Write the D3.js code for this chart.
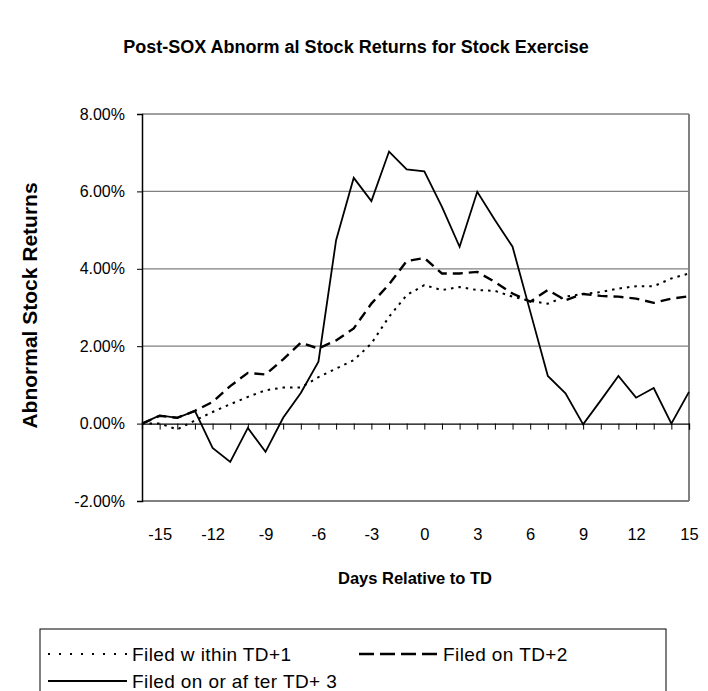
<!DOCTYPE html>
<html>
<head>
<meta charset="utf-8">
<script src="https://cdn.jsdelivr.net/npm/d3@7"></script>
<style>
  body { margin: 0; background: #fff; }
  text { font-family: "Liberation Sans", Arial, sans-serif; }
</style>
</head>
<body>
<div id="chart"></div>
<script>
// days relative to TD
var days = d3.range(-16, 16);
var xTickLabels = [-15, -12, -9, -6, -3, 0, 3, 6, 9, 12, 15];
var yTickValues = [-0.02, 0, 0.02, 0.04, 0.06, 0.08];

// abnormal returns, in %
var filedWithin1 = [0, 0, -0.15, 0.08, 0.3, 0.5, 0.69, 0.86, 0.93, 0.93, 1.2, 1.42, 1.64, 2.07, 2.76, 3.32,
  3.58, 3.45, 3.53, 3.45, 3.43, 3.28, 3.17, 3.1, 3.28, 3.35, 3.4, 3.49, 3.55, 3.55, 3.75, 3.88];
var filedOn2 = [0, 0.2, 0.15, 0.33, 0.56, 0.97, 1.31, 1.27, 1.66, 2.09, 1.94, 2.15, 2.46, 3.1, 3.6, 4.2,
  4.28, 3.88, 3.88, 3.92, 3.66, 3.36, 3.15, 3.45, 3.19, 3.35, 3.3, 3.28, 3.23, 3.12, 3.23, 3.29];
var filedAfter3 = [0, 0.21, 0.15, 0.33, -0.63, -0.99, -0.11, -0.73, 0.15, 0.79, 1.6, 4.74, 6.35, 5.75, 7.03, 6.57,
  6.52, 5.6, 4.57, 5.99, 5.26, 4.57, 2.9, 1.23, 0.78, -0.02, 0.6, 1.23, 0.67, 0.92, 0, 0.82];

var seriesNames = ["Filed w ithin TD+1", "Filed on TD+2", "Filed on or af ter TD+ 3"];
var seriesData = [filedWithin1, filedOn2, filedAfter3];
var seriesDash = ["2.5,5", "10,6", null];
var seriesWidth = [2, 2.4, 1.8];

var W = 708, H = 691;
var margin = {top: 114, right: 19, bottom: 190, left: 142},
    width = W - margin.left - margin.right,
    height = H - margin.top - margin.bottom;

var svg = d3.select("#chart").append("svg")
    .attr("width", W)
    .attr("height", H);

var x = d3.scaleLinear().domain([-16, 15]).range([0, width]);
var y = d3.scaleLinear().domain([-0.02, 0.08]).range([height, 0]);

var g = svg.append("g")
    .attr("transform", "translate(" + margin.left + "," + margin.top + ")");

// gridlines
g.selectAll(".grid")
    .data(yTickValues.filter(function(d) { return d > 0; }))
  .enter().append("line")
    .attr("x1", 0).attr("x2", width)
    .attr("y1", function(d) { return y(d); })
    .attr("y2", function(d) { return y(d); })
    .attr("stroke", "#808080")
    .attr("stroke-width", 1.3);

// plot frame (right and bottom)
g.append("line").attr("x1", width).attr("x2", width).attr("y1", 0).attr("y2", height)
    .attr("stroke", "#808080").attr("stroke-width", 2);
g.append("line").attr("x1", 0).attr("x2", width).attr("y1", height).attr("y2", height)
    .attr("stroke", "#808080").attr("stroke-width", 2);

var hyphen = function(s) { return s.replace("\u2212", "-"); };

// y axis
var yAxis = d3.axisLeft(y)
    .tickValues(yTickValues)
    .tickSize(5)
    .tickPadding(12)
    .tickFormat(function(d) { return hyphen(d3.format(".2%")(d)); });

var yg = g.append("g").call(yAxis);
yg.select(".domain").attr("stroke", "#000").attr("stroke-width", 1.5);
yg.selectAll(".tick line").attr("stroke", "#000");
yg.selectAll("text").attr("font-size", 16).attr("fill", "#000")
    .attr("font-family", "Liberation Sans, Arial, sans-serif");

// zero line with ticks
var zeroAxis = d3.axisBottom(x)
    .tickValues(days)
    .tickSize(6)
    .tickFormat("");
var zg = g.append("g")
    .attr("transform", "translate(0," + y(0) + ")")
    .call(zeroAxis);
zg.select(".domain").attr("stroke", "#000").attr("stroke-width", 1.3);
zg.selectAll(".tick line").attr("stroke", "#000");

// x tick labels under the plot
var xAxis = d3.axisBottom(x)
    .tickValues(xTickLabels)
    .tickSize(0)
    .tickPadding(27)
    .tickFormat(function(d) { return hyphen(d3.format("d")(d)); });
var xg = g.append("g")
    .attr("transform", "translate(0," + height + ")")
    .call(xAxis);
xg.select(".domain").remove();
xg.selectAll("text").attr("font-size", 16.5).attr("fill", "#000")
    .attr("font-family", "Liberation Sans, Arial, sans-serif");

// lines
var line = d3.line()
    .x(function(d, i) { return x(days[i]); })
    .y(function(d) { return y(d / 100); });

g.selectAll(".series")
    .data(seriesData)
  .enter().append("path")
    .attr("class", "series")
    .attr("d", line)
    .attr("fill", "none")
    .attr("stroke", "#000")
    .attr("stroke-width", function(d, i) { return seriesWidth[i]; })
    .attr("stroke-dasharray", function(d, i) { return seriesDash[i]; })
    .attr("stroke-linejoin", "miter");

// title
svg.append("text")
    .attr("x", 356)
    .attr("y", 53)
    .attr("text-anchor", "middle")
    .attr("font-size", 18)
    .attr("font-weight", "bold")
    .text("Post-SOX Abnorm al Stock Returns for Stock Exercise");

// axis titles
svg.append("text")
    .attr("transform", "translate(37," + (margin.top + height / 2 - 2) + ") rotate(-90)")
    .attr("text-anchor", "middle")
    .attr("font-size", 21)
    .attr("font-weight", "bold")
    .text("Abnormal Stock Returns");

svg.append("text")
    .attr("x", 415)
    .attr("y", 584)
    .attr("text-anchor", "middle")
    .attr("font-size", 16.5)
    .attr("font-weight", "bold")
    .text("Days Relative to TD");

// legend
var legend = svg.append("g").attr("transform", "translate(40,629)");
legend.append("rect")
    .attr("x", 0).attr("y", 0)
    .attr("width", 626).attr("height", 80)
    .attr("fill", "#fff")
    .attr("stroke", "#000")
    .attr("stroke-width", 1);

var legendPos = [[8, 25], [319, 25], [8, 52]];
var li = legend.selectAll(".li")
    .data(seriesNames)
  .enter().append("g")
    .attr("transform", function(d, i) { return "translate(" + legendPos[i][0] + "," + legendPos[i][1] + ")"; });

li.append("line")
    .attr("x1", 0).attr("x2", 79)
    .attr("stroke", "#000")
    .attr("stroke-width", function(d, i) { return seriesWidth[i]; })
    .attr("stroke-dasharray", function(d, i) { return i === 0 ? "2,9" : i === 1 ? "15,6" : null; });

li.append("text")
    .attr("x", 84)
    .attr("dy", "0.35em")
    .attr("font-size", 19)
    .attr("letter-spacing", 0.4)
    .text(function(d) { return d; });
</script>
</body>
</html>
